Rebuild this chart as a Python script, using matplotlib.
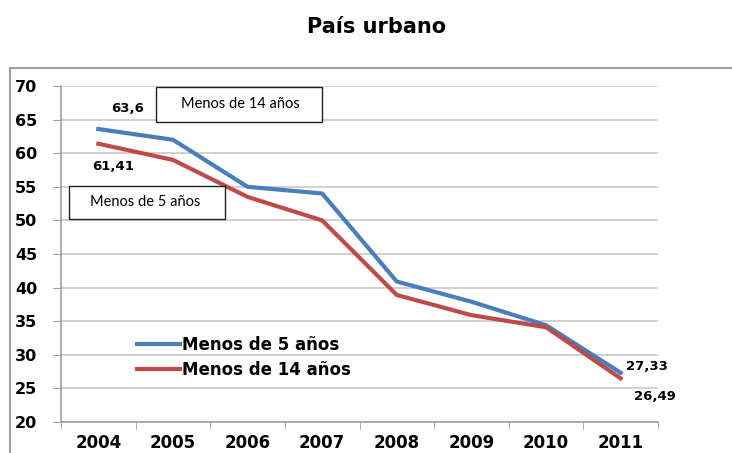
import matplotlib
matplotlib.use("Agg")
import matplotlib.pyplot as plt
from matplotlib.patches import Rectangle

years = ["2004", "2005", "2006", "2007", "2008", "2009", "2010", "2011"]
menos5 = [63.6, 62.0, 55.0, 54.0, 40.9, 37.9, 34.4, 27.33]
menos14 = [61.41, 59.0, 53.5, 50.0, 38.9, 35.9, 34.1, 26.49]
yticks = [20, 25, 30, 35, 40, 45, 50, 55, 60, 65, 70]

blue = "#4A7EBB"
red = "#BE4B48"
W, H = 732, 453

fig = plt.figure(figsize=(7.32, 4.53), dpi=100)
fig.patches.append(Rectangle((10/W, -0.05), 1.0, 0.05 + 1 - 68/H,
                             transform=fig.transFigure, fill=False,
                             edgecolor="#A0A0A0", lw=1.5))
fig.text(377/W, 1 - 27/H, "País urbano", ha="center", va="center",
         fontsize=15, fontweight="bold", family="DejaVu Sans")

ax = fig.add_axes([61/W, 1 - 422/H, (658 - 61)/W, (422 - 86)/H])
x = list(range(len(years)))
ax.plot(x, menos5, color=blue, lw=3.0, label="Menos de 5 años", solid_joinstyle="round")
ax.plot(x, menos14, color=red, lw=3.0, label="Menos de 14 años", solid_joinstyle="round")

ax.set_xlim(-0.5, len(years) - 0.5)
ax.set_ylim(20, 70)
ax.set_yticks(yticks)
ax.set_yticklabels([str(v) for v in yticks], fontsize=11.5, fontweight="bold")
ax.set_xticks(x)
ax.set_xticklabels(years, fontsize=12, fontweight="bold")
ax.set_xticks([i - 0.5 for i in range(len(years) + 1)], minor=True)
ax.tick_params(axis="x", which="major", length=0, pad=9)
ax.tick_params(axis="x", which="minor", length=5, color="#A0A0A0", direction="out")
ax.tick_params(axis="y", length=6, color="#A0A0A0", direction="out", pad=11)
ax.grid(axis="y", color="#C8C8C8", lw=1.2)
ax.set_axisbelow(True)
for s in ["top", "right"]:
    ax.spines[s].set_visible(False)
for s in ["left", "bottom"]:
    ax.spines[s].set_color("#A0A0A0")
    ax.spines[s].set_linewidth(1.2)

def px(xp, yp):
    return (xp / W, 1 - yp / H)

lab_kw = dict(ha="center", va="center", fontsize=9.5, fontweight="bold",
              textcoords="figure fraction", xycoords="data")
ax.annotate("63,6", (x[0], menos5[0]), xytext=px(128, 108), **lab_kw)
ax.annotate("61,41", (x[0], menos14[0]), xytext=px(113, 167), **lab_kw)
ax.annotate("27,33", (x[-1], menos5[-1]), xytext=px(647, 367), **lab_kw)
ax.annotate("26,49", (x[-1], menos14[-1]), xytext=px(655, 396), **lab_kw)

for (x0, y0, x1, y1, txt, tx) in [(156, 87, 322, 122, "Menos de 14 años", 240),
                                   (69, 186, 225, 219, "Menos de 5 años", 145)]:
    fig.patches.append(Rectangle((x0/W, 1 - y1/H), (x1 - x0)/W, (y1 - y0)/H,
                                 transform=fig.transFigure, facecolor="white",
                                 edgecolor="#202020", lw=1.0, zorder=5))
    fig.text(tx/W, 1 - (y0 + y1)/2/H, txt, ha="center", va="center",
             fontsize=10.5, family="Lato", zorder=6)

leg = ax.legend(loc="center left",
                bbox_to_anchor=((137 - 61)/597, (422 - 357.5)/336),
                frameon=False, handlelength=2.6, handletextpad=0.12,
                labelspacing=0.45, borderpad=0, borderaxespad=0,
                prop=dict(size=12, weight="bold"))

fig.savefig("out.png", dpi=100)
